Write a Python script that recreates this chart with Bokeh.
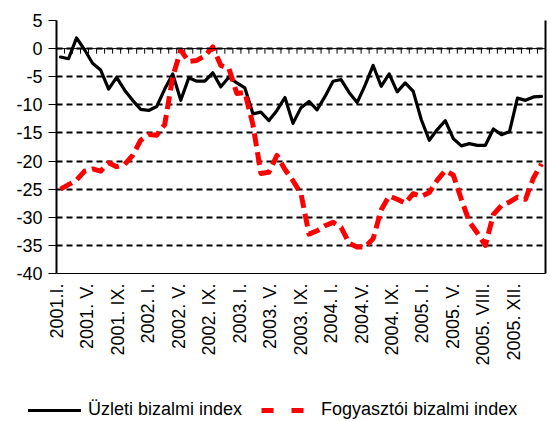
import math
import numpy as np
from bokeh.plotting import figure
from bokeh.layouts import column, row
from bokeh.models import (Range1d, FixedTicker, LinearAxis, Span, Legend,
                          LegendItem)
from bokeh.embed import file_html
from bokeh.resources import INLINE

# Monthly data, 2001 I. onwards
uzleti = [-1.5, -1.8, 1.9, -0.2, -2.6, -3.8, -7.2, -5.1, -7.4, -9.2,
          -10.8, -11.0, -10.3, -7.2, -4.5, -9.2, -5.2, -5.8, -5.8, -4.3,
          -6.8, -5.1, -6.1, -7.0, -11.6, -11.3, -12.8, -11.0, -8.7, -13.3,
          -10.5, -9.4, -10.9, -8.5, -5.8, -5.5, -7.8, -9.6, -6.5, -3.0,
          -6.7, -4.5, -7.7, -6.1, -7.6, -12.6, -16.3, -14.4, -12.8, -16.0,
          -17.3, -16.9, -17.2, -17.2, -14.3, -15.3, -14.8, -8.8, -9.2, -8.6,
          -8.5]
fogyasztoi = [-25.0, -24.2, -23.4, -21.8, -21.4, -21.8, -20.3, -21.0, -20.6, -19.0,
              -16.3, -15.3, -15.4, -13.5, -5.0, -0.3, -2.3, -2.1, -1.3, 0.3,
              -3.0, -3.5, -8.0, -7.8, -13.5, -22.2, -22.0, -19.0, -21.5, -23.5,
              -25.8, -33.0, -32.4, -31.5, -30.9, -31.8, -34.6, -35.3, -35.3, -33.8,
              -28.7, -26.2, -26.8, -27.5, -25.8, -26.3, -25.6, -23.4, -21.7, -22.5,
              -26.8, -30.8, -32.8, -35.0, -29.5, -27.9, -27.3, -26.4, -26.8, -23.0,
              -20.5]
tick_labels = ["2001.I.", "2001. V.", "2001. IX.", "2002. I.", "2002. V.",
               "2002. IX.", "2003. I.", "2003. V.", "2003. IX.", "2004. I.",
               "2004.V.", "2004. IX.", "2005. I.", "2005. V.", "2005. VIII.",
               "2005. XII."]
y_ticks = [5, 0, -5, -10, -15, -20, -25, -30, -35, -40]
series_names = ["Üzleti bizalmi index", "Fogyasztói bizalmi index"]

FONT = "Liberation Sans"
BLACK_STYLE = dict(line_color="black", line_width=3.2, line_join="round",
                   line_cap="round")
RED_STYLE = dict(line_color="#FF0000", line_width=5, line_dash="13 6",
                 line_join="round")
RED_KEY_STYLE = dict(line_color="#FF0000", line_width=5, line_dash="12 18")
n = len(uzleti)
x = np.arange(n)

p = figure(width=550, height=388, output_backend="svg", toolbar_location=None,
           x_range=Range1d(-0.5, n - 0.5), y_range=Range1d(-40, 5),
           min_border_left=56, min_border_right=5, min_border_top=20,
           min_border_bottom=115)
p.outline_line_color = None

# horizontal dashed grid
p.xgrid.visible = False
p.ygrid.ticker = FixedTicker(ticks=y_ticks)
p.ygrid.grid_line_color = "black"
p.ygrid.grid_line_width = 2
p.ygrid.grid_line_dash = "6 4"

# left axis
p.yaxis.ticker = FixedTicker(ticks=y_ticks)
p.yaxis.major_label_overrides = {v: str(v) for v in y_ticks}
p.yaxis.axis_line_width = 2
p.yaxis.axis_line_color = "black"
p.yaxis.major_tick_out = 8
p.yaxis.major_tick_in = 0
p.yaxis.minor_tick_out = 0
p.yaxis.minor_tick_in = 0
p.yaxis.major_tick_line_color = "black"
p.yaxis.major_label_standoff = 6
p.yaxis.major_label_text_font = FONT
p.yaxis.major_label_text_font_size = "18px"
p.yaxis.major_label_text_color = "black"

# bottom axis with rotated labels (evenly spread as in the source chart)
label_step = 3.8
tick_pos = [round(-0.45 + label_step * k, 3) for k in range(len(tick_labels))]
p.xaxis.ticker = FixedTicker(ticks=tick_pos)
p.xaxis.major_label_overrides = {pos: lab for pos, lab in zip(tick_pos, tick_labels)}
p.xaxis.major_label_orientation = math.pi / 2
p.xaxis.major_tick_out = 0
p.xaxis.major_tick_in = 0
p.xaxis.minor_tick_out = 0
p.xaxis.minor_tick_in = 0
p.xaxis.axis_line_color = "black"
p.xaxis.axis_line_width = 1
p.xaxis.major_label_standoff = 10
p.xaxis.major_label_text_font = FONT
p.xaxis.major_label_text_font_size = "18px"
p.xaxis.major_label_text_color = "black"

# right border
right_axis = LinearAxis(ticker=FixedTicker(ticks=[]), axis_line_width=2,
                        axis_line_color="black", major_tick_out=0,
                        major_tick_in=0, minor_tick_out=0, minor_tick_in=0,
                        major_label_standoff=0)
p.add_layout(right_axis, "right")

# zero line with category ticks
p.add_layout(Span(location=0, dimension="width", line_color="black",
                  line_width=1))
bounds = np.arange(n + 1) - 0.5
p.segment(x0=bounds, y0=0, x1=bounds, y1=-0.9, line_color="black",
          line_width=1)

p.line(x, uzleti, **BLACK_STYLE)
p.line(x, fogyasztoi, **RED_STYLE)

# legend strip below the chart
lg = figure(width=550, height=33, output_backend="svg", toolbar_location=None,
            x_range=Range1d(0, 1), y_range=Range1d(0, 1),
            x_axis_type=None, y_axis_type=None,
            min_border_left=0, min_border_right=0, min_border_top=0,
            min_border_bottom=0)
lg.outline_line_color = None
lg.xgrid.visible = False
lg.ygrid.visible = False
k1 = lg.line([np.nan, np.nan], [np.nan, np.nan], **BLACK_STYLE)
k2 = lg.line([np.nan, np.nan], [np.nan, np.nan], **RED_KEY_STYLE)
legend = Legend(items=[LegendItem(label=series_names[0], renderers=[k1]),
                       LegendItem(label=series_names[1], renderers=[k2])],
                orientation="horizontal", location=(28, 1),
                padding=0, margin=0, spacing=19, glyph_width=53,
                glyph_height=20, label_height=20, label_standoff=7,
                label_text_font=FONT, label_text_font_size="18px",
                label_text_color="black",
                border_line_color=None, background_fill_alpha=0)
lg.add_layout(legend)

open("out.html", "w").write(file_html(column(p, row(lg, spacing=0), spacing=0),
                                      INLINE))
